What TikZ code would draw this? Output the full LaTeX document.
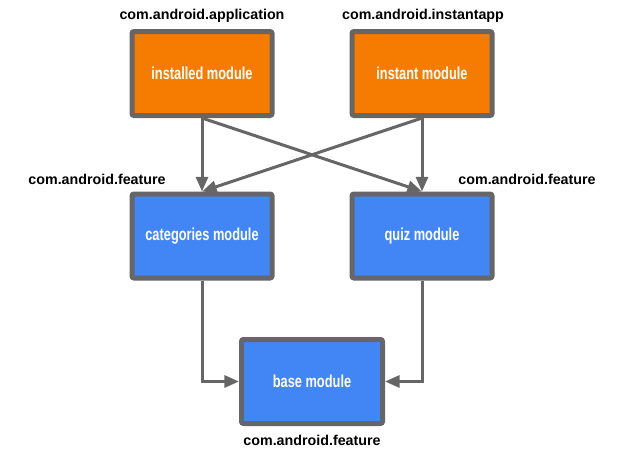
\documentclass[tikz,border=0pt]{standalone}
\usepackage{fontspec}
\setmainfont{Liberation Sans}
\newfontfamily\condfont[FakeStretch=0.74]{Liberation Sans}
\usetikzlibrary{arrows.meta}
\definecolor{borderGray}{HTML}{666666}
\definecolor{modOrange}{HTML}{F57C00}
\definecolor{modBlue}{HTML}{4285F4}
\tikzset{
  modbox/.style={draw=borderGray, line width=3.75pt, rounded corners=1.5pt,
    minimum width=105pt, minimum height=63pt, inner sep=0pt,
    text=white, font=\condfont\bfseries\fontsize{13}{15}\selectfont},
  orangebox/.style={modbox, fill=modOrange},
  bluebox/.style={modbox, fill=modBlue},
  pkglabel/.style={font=\bfseries\fontsize{10.7}{12}\selectfont, text=black, inner sep=0pt},
  conn/.style={draw=borderGray, line width=2.25pt, -{Triangle[length=11pt,width=9pt]}}
}
\begin{document}
\begin{tikzpicture}[x=0.75pt,y=-0.75pt]
\useasboundingbox (0,0) rectangle (624,450);
\node[orangebox] (installed) at (202,73.5) {installed module};
\node[orangebox] (instant) at (422,73.5) {instant module};
\node[bluebox] (categories) at (202,236) {categories module};
\node[bluebox] (quiz) at (422,236) {quiz module};
\node[bluebox, minimum width=105.75pt] (base) at (312,381.5) {base module};

\node[pkglabel] (lblinstalled) at (202,16) {com.android.application};
\node[pkglabel] (lblinstant) at (423,16) {com.android.instantapp};
\node[pkglabel] (lblcat) at (97,179) {com.android.feature};
\node[pkglabel] (lblquiz) at (527,179) {com.android.feature};
\node[pkglabel] (lblbase) at (312,440) {com.android.feature};

\draw[conn] (installed.south) -- (categories.north);
\draw[conn] (instant.south) -- (quiz.north);
\draw[conn] (installed.south) -- (quiz.north);
\draw[conn] (instant.south) -- (categories.north);
\draw[conn] (categories.south) |- (base.west);
\draw[conn] (quiz.south) |- (base.east);
\end{tikzpicture}
\end{document}
